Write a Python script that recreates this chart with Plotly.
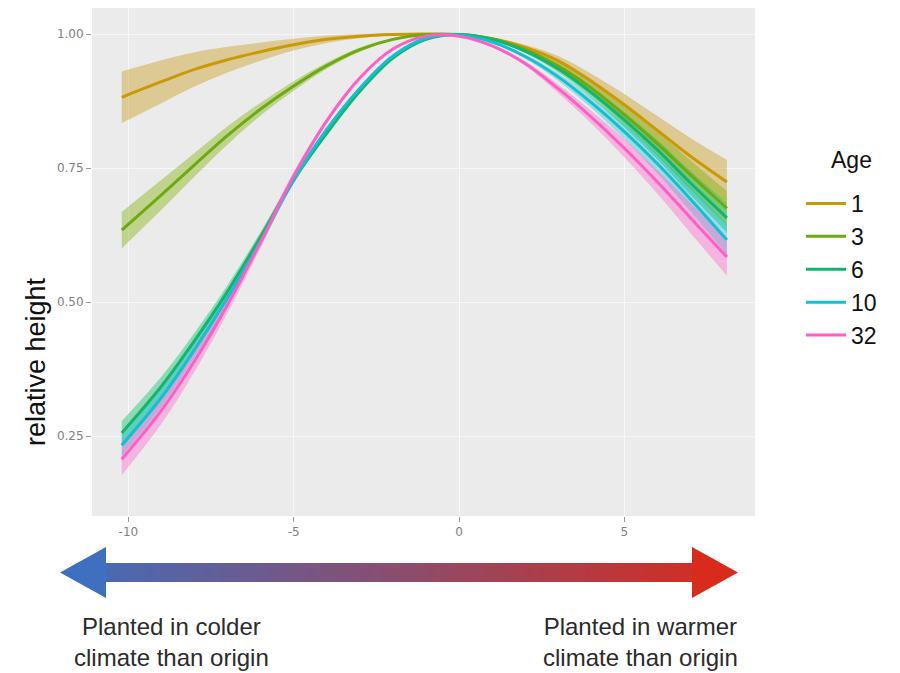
import numpy as np
import plotly.graph_objects as go

# ---------------- data ----------------
x_vals = [-10.2, -9, -8, -7, -6, -5, -4, -3, -2, -1, 0, 1, 2, 3, 4, 5, 6, 7, 8.1]

ages = ["1", "3", "6", "10", "32"]

age1 = [0.882, 0.911, 0.934, 0.952, 0.967, 0.980, 0.990, 0.996, 0.999, 1.000, 0.998,
        0.991, 0.975, 0.950, 0.912, 0.868, 0.820, 0.772, 0.724]
age3 = [0.634, 0.700, 0.756, 0.811, 0.860, 0.903, 0.941, 0.971, 0.990, 0.999, 0.999,
        0.991, 0.971, 0.940, 0.899, 0.849, 0.795, 0.737, 0.675]
age6 = [0.256, 0.343, 0.428, 0.520, 0.622, 0.728, 0.815, 0.893, 0.955, 0.990, 0.999,
        0.990, 0.968, 0.935, 0.891, 0.840, 0.784, 0.722, 0.657]
age10 = [0.233, 0.322, 0.411, 0.508, 0.614, 0.728, 0.822, 0.899, 0.959, 0.992, 0.998,
         0.985, 0.958, 0.920, 0.872, 0.818, 0.758, 0.692, 0.616]
age32 = [0.207, 0.298, 0.390, 0.495, 0.612, 0.735, 0.838, 0.918, 0.972, 0.996, 0.996,
         0.978, 0.945, 0.898, 0.845, 0.787, 0.724, 0.657, 0.584]

# half-widths of the confidence ribbons
ci1 = [0.048, 0.040, 0.032, 0.024, 0.017, 0.011, 0.007, 0.004, 0.002, 0.001, 0.001,
       0.002, 0.005, 0.009, 0.014, 0.020, 0.027, 0.034, 0.041]
ci3 = [0.034, 0.028, 0.022, 0.017, 0.012, 0.009, 0.006, 0.004, 0.002, 0.001, 0.001,
       0.002, 0.005, 0.009, 0.013, 0.017, 0.022, 0.027, 0.032]
ci6 = [0.022, 0.018, 0.015, 0.012, 0.009, 0.007, 0.005, 0.003, 0.002, 0.001, 0.001,
       0.002, 0.004, 0.007, 0.010, 0.014, 0.018, 0.022, 0.027]
ci10 = [0.020, 0.017, 0.014, 0.011, 0.009, 0.007, 0.005, 0.003, 0.002, 0.001, 0.001,
        0.002, 0.004, 0.007, 0.010, 0.014, 0.018, 0.023, 0.028]
ci32 = [0.030, 0.025, 0.020, 0.015, 0.011, 0.008, 0.005, 0.003, 0.002, 0.001, 0.001,
        0.002, 0.004, 0.008, 0.012, 0.017, 0.022, 0.028, 0.035]

x_ticks = [-10, -5, 0, 5]
y_ticks = [0.25, 0.50, 0.75, 1.00]
y_ticklabels = ["0.25", "0.50", "0.75", "1.00"]

series = [age1, age3, age6, age10, age32]
cis = [ci1, ci3, ci6, ci10, ci32]
line_colors = ["#C99A06", "#6DAA0F", "#13B56A", "#14BFD1", "#FF5EC4"]
fill_colors = ["rgba(204,160,40,0.45)", "rgba(124,174,0,0.40)", "rgba(0,190,103,0.40)",
               "rgba(0,191,210,0.35)", "rgba(255,97,204,0.40)"]

# ---------------- figure ----------------
fig = go.Figure()
x_arr = np.array(x_vals)

# ribbons first
for name, y, ci, fc in zip(ages, series, cis, fill_colors):
    y = np.array(y)
    ci = np.array(ci)
    fig.add_trace(go.Scatter(x=x_arr, y=y - ci, mode="lines", line=dict(width=0, shape="spline"),
                             showlegend=False, hoverinfo="skip"))
    fig.add_trace(go.Scatter(x=x_arr, y=y + ci, mode="lines", line=dict(width=0, shape="spline"),
                             fill="tonexty", fillcolor=fc, showlegend=False, hoverinfo="skip"))

# lines on top
for name, y, lc in zip(ages, series, line_colors):
    fig.add_trace(go.Scatter(x=x_arr, y=y, mode="lines", name=name,
                             line=dict(color=lc, width=3, shape="spline")))

# page body has an 8px margin; work in screen pixels
OFF = 8
SW, SH = 900, 673
L, R, T, B = 92, 755, 8, 516          # plot panel in screen pixels
W, H = SW - OFF, SH - OFF              # figure size


def px2x(px):
    return (px - L) / (R - L)


def py2y(py):
    return (B - py) / (B - T)


shapes = []
# gradient shaft
x0s, x1s = 100, 700
n = 90
c_left = np.array([63, 111, 191])
c_right = np.array([217, 43, 28])
for i in range(n):
    a = x0s + (x1s - x0s) * i / n
    b = x0s + (x1s - x0s) * (i + 1) / n + 0.8
    t = ((a + b) / 2 - 60) / (738 - 60)
    c = (c_left * (1 - t) + c_right * t).astype(int)
    shapes.append(dict(type="rect", xref="paper", yref="paper",
                       x0=px2x(a), x1=px2x(b), y0=py2y(582), y1=py2y(563),
                       fillcolor=f"rgb({c[0]},{c[1]},{c[2]})", line=dict(width=0), layer="above"))
# arrow heads
tl = f"rgb({c_left[0]},{c_left[1]},{c_left[2]})"
tr = f"rgb({c_right[0]},{c_right[1]},{c_right[2]})"
shapes.append(dict(type="path", xref="paper", yref="paper",
                   path=f"M {px2x(60)},{py2y(572.5)} L {px2x(106)},{py2y(547)} L {px2x(106)},{py2y(598)} Z",
                   fillcolor=tl, line=dict(width=0), layer="above"))
shapes.append(dict(type="path", xref="paper", yref="paper",
                   path=f"M {px2x(738)},{py2y(572.5)} L {px2x(692)},{py2y(547)} L {px2x(692)},{py2y(598)} Z",
                   fillcolor=tr, line=dict(width=0), layer="above"))

txtfont = dict(family="Liberation Sans, Arial, sans-serif", size=24, color="#2b2b2b")
annotations = [
    dict(text="Planted in colder<br>climate than origin", xref="paper", yref="paper",
         x=px2x(171), y=py2y(642), showarrow=False, xanchor="center", yanchor="middle",
         font=txtfont),
    dict(text="Planted in warmer<br>climate than origin", xref="paper", yref="paper",
         x=px2x(640), y=py2y(642), showarrow=False, xanchor="center", yanchor="middle",
         font=txtfont),
    dict(text="relative height", xref="paper", yref="paper", x=px2x(36), y=py2y(362),
         showarrow=False, textangle=-90, xanchor="center", yanchor="middle",
         font=dict(family="Liberation Sans, Arial, sans-serif", size=27, color="#111111")),
    # legend title
    dict(text="Age", xref="paper", yref="paper", x=px2x(851), y=py2y(160),
         showarrow=False, xanchor="center", yanchor="middle",
         font=dict(family="Liberation Sans, Arial, sans-serif", size=23, color="#111111")),
]

tickfont = dict(family="DejaVu Sans, Verdana, sans-serif", size=12, color="#808080")

fig.update_layout(
    width=W, height=H,
    margin=dict(l=L - OFF, r=W - (R - OFF), t=T - OFF, b=H - (B - OFF), autoexpand=False),
    paper_bgcolor="white",
    plot_bgcolor="#EBEBEB",
    shapes=shapes,
    annotations=annotations,
    xaxis=dict(range=[-11.10, 8.95], tickvals=x_ticks, ticktext=[str(v) for v in x_ticks],
               showgrid=True, gridcolor="#F7F7F7", gridwidth=1.2, zeroline=False,
               ticks="outside", ticklen=5, tickcolor="#9a9a9a", tickfont=tickfont,
               showline=False),
    yaxis=dict(range=[0.101, 1.0485], tickvals=y_ticks, ticktext=y_ticklabels,
               showgrid=True, gridcolor="#F7F7F7", gridwidth=1.2, zeroline=False,
               ticks="outside", ticklen=5, tickcolor="#9a9a9a", tickfont=tickfont,
               showline=False),
    legend=dict(x=px2x(801), y=py2y(182), xanchor="left", yanchor="top",
                traceorder="normal",
                font=dict(family="Liberation Sans, Arial, sans-serif", size=23, color="#111"),
                bgcolor="rgba(0,0,0,0)", tracegroupgap=0, itemwidth=40),
    showlegend=True,
)

fig.write_html("out.html")
